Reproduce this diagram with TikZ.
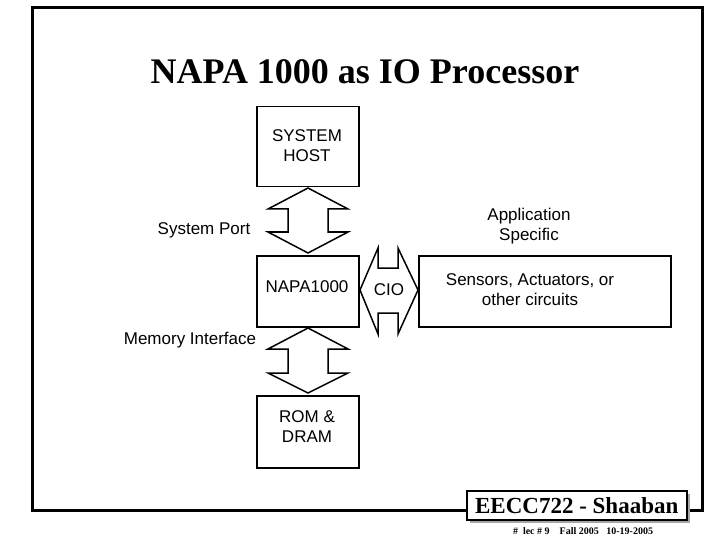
\documentclass[tikz,border=0pt]{standalone}
\usepackage{fontspec}
\setmainfont{Liberation Sans}
\newfontfamily\serifx{Liberation Serif}
\begin{document}
\begin{tikzpicture}[x=1pt,y=-1pt]
\tikzset{box/.style = {draw, line width=1.5pt, inner sep=0pt},
         lbl/.style = {font=\fontsize{17}{20}\selectfont, align=center},
         dbl/.style = {draw, line width=1.5pt, line join=miter}}
\useasboundingbox (0,0) rectangle (720,540);
% frame
\draw[line width=3pt] (32,8) rectangle (702,510);
% title
\node[font=\serifx\bfseries\fontsize{36}{40}\selectfont] (title) at (365,72) {NAPA 1000 as IO Processor};
% boxes
\node[box, minimum width=102pt, minimum height=80pt, anchor=north west] (host) at (256,106) {};
\node[lbl] (hostt) at (307,146) {SYSTEM\\HOST};
\node[box, minimum width=102pt, minimum height=71pt, anchor=north west] (napa) at (256,255) {};
\node[lbl] (napat) at (307,287) {NAPA1000};
\node[box, minimum width=102pt, minimum height=72pt, anchor=north west] (rom) at (256,395) {};
\node[lbl] (romt) at (307,427) {ROM \&\\DRAM};
\node[box, minimum width=252pt, minimum height=71pt, anchor=north west] (sens) at (418,255) {};
\node[lbl] (senst) at (530,290) {Sensors, Actuators, or\\other circuits};
% double arrows
\draw[dbl] (308,188) -- (348,209) -- (328,209) -- (328,232) -- (348,232) -- (308,253)
  -- (268,232) -- (288,232) -- (288,209) -- (268,209) -- cycle;
\draw[dbl] (308,328) -- (348,349) -- (328,349) -- (328,373) -- (348,373) -- (308,393)
  -- (268,373) -- (288,373) -- (288,349) -- (268,349) -- cycle;
\draw[dbl] (360,290) -- (378,248) -- (378,268) -- (398,268) -- (398,248) -- (418,290)
  -- (398,334) -- (398,313) -- (378,313) -- (378,334) -- cycle;
% labels
\node[lbl] (sp) at (204,230) {System Port};
\node[lbl] (as) at (529,226) {Application\\Specific};
\node[lbl] (mi) at (190,340) {Memory Interface};
\node[lbl] (cio) at (389,290) {CIO};
% footer
\fill[gray!70] (470,494) rectangle (690,523);
\node[draw, line width=1.5pt, fill=white, minimum width=220pt, minimum height=29pt, anchor=north west,
  font=\serifx\bfseries\fontsize{23}{26}\selectfont] (foot) at (466,490) {EECC722 - Shaaban};
\node[font=\serifx\bfseries\fontsize{10}{11}\selectfont] (info) at (583,531) {\#~~lec \# 9~~~~Fall 2005~~~10-19-2005};
\end{tikzpicture}
\end{document}
